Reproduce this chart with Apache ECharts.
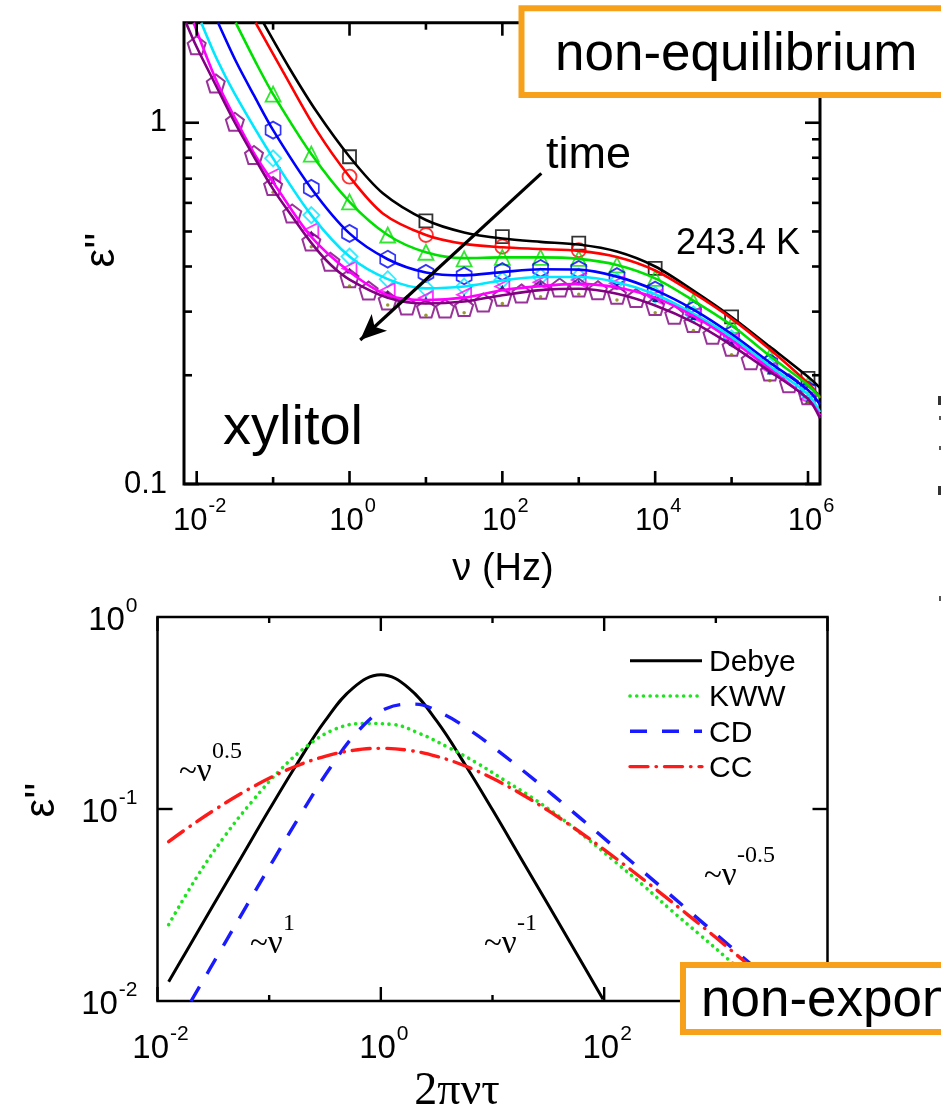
<!DOCTYPE html>
<html>
<head>
<meta charset="utf-8">
<title>Dielectric loss of xylitol</title>
<script src="https://cdn.jsdelivr.net/npm/echarts@6.0.0/dist/echarts.min.js"></script>
<style>
html, body { margin: 0; padding: 0; background: #ffffff; }
#chart { width: 941px; height: 1118px; }
</style>
</head>
<body>
<div id="chart"></div>
<script>
// ---------- upper panel: xylitol at 243.4 K, eps'' vs frequency ----------
// frequencies are stored as log10(nu / Hz)
const nuDecades = [0, 1, 2, 3, 4, 5, 6];
const nuHalfDecades = [-1, -0.5, 0, 0.5, 1, 1.5, 2, 2.5, 3, 3.5, 4, 4.5, 5, 5.5, 6];
const nuQuarterDecades = [-2, -1.75, -1.5, -1.25, -1, -0.75, -0.5, -0.25, 0, 0.25, 0.5, 0.75,
  1, 1.25, 1.5, 1.75, 2, 2.25, 2.5, 2.75, 3, 3.25, 3.5, 3.75, 4, 4.25, 4.5, 4.75, 5, 5.25, 5.5, 5.75, 6];

// measured points
const epsSquares  = [0.805, 0.535, 0.484, 0.464, 0.395, 0.290, 0.196];
const epsCircles  = [0.709, 0.489, 0.454, 0.444];
const epsTriUp    = [1.20, 0.819, 0.604, 0.489, 0.438, 0.420, 0.424, 0.424, 0.421, 0.404, 0.371, 0.320, 0.275, 0.225, 0.188];
const epsHexagons = [0.954, 0.658, 0.494, 0.419, 0.383, 0.377, 0.387, 0.395, 0.393, 0.375, 0.344, 0.303, 0.259, 0.216, 0.182];
const epsDiamonds = [0.797, 0.555, 0.426, 0.369, 0.348, 0.352, 0.367, 0.375, 0.375, 0.364, 0.334, 0.295, 0.253, 0.212, 0.178];
const epsTriLeft  = [0.716, 0.505, 0.395, 0.344, 0.327, 0.334, 0.352, 0.362, 0.367, 0.359, 0.330, 0.294, 0.250, 0.208, 0.172];
const epsStars    = [0.690, 0.494, 0.390, 0.338, 0.325, 0.330, 0.350, 0.358, 0.362, 0.352, 0.325, 0.290, 0.246, 0.205, 0.170];
const epsDots     = [0.642, 0.454, 0.353, 0.313, 0.293, 0.298, 0.316, 0.330, 0.335, 0.323, 0.298, 0.266, 0.228, 0.193, 0.168];
const epsPentagons = [1.64, 1.285, 1.006, 0.814, 0.668, 0.561, 0.469, 0.412, 0.371, 0.343, 0.322, 0.312,
  0.306, 0.306, 0.309, 0.318, 0.330, 0.337, 0.345, 0.350, 0.350, 0.344, 0.334, 0.327, 0.311, 0.294,
  0.279, 0.259, 0.240, 0.220, 0.205, 0.190, 0.176];

// fit curves
const fitBlackNu = [-1.128, -0.786, -0.436, 0, 0.436, 1, 1.5, 2, 2.5, 3, 3.5, 4, 4.5, 5, 5.5, 6, 6.157];
const fitBlackEps = [1.892, 1.415, 1.077, 0.805, 0.638, 0.538, 0.497, 0.478, 0.468, 0.460, 0.440, 0.400, 0.343, 0.290, 0.240, 0.198, 0.1845];
const fitRedNu = [-1.23, -0.874, -0.436, 0, 0.436, 1, 1.5, 2, 2.5, 3, 3.5, 4, 4.5, 5, 5.5, 6, 6.157];
const fitRedEps = [1.892, 1.39, 0.957, 0.709, 0.561, 0.489, 0.462, 0.452, 0.447, 0.442, 0.425, 0.390, 0.338, 0.287, 0.236, 0.190, 0.174];
const fitGreenNu = [-1.49, -1.22, -1, -0.5, 0, 0.5, 1, 1.5, 2, 2.5, 3, 3.5, 4, 4.5, 5, 5.5, 6, 6.157];
const fitGreenEps = [1.892, 1.46, 1.20, 0.819, 0.604, 0.489, 0.438, 0.422, 0.424, 0.424, 0.420, 0.404, 0.371, 0.322, 0.275, 0.226, 0.188, 0.173];
const fitBlueNu = [-1.72, -1.48, -1.25, -1, -0.5, 0, 0.5, 1, 1.5, 2, 2.5, 3, 3.5, 4, 4.5, 5, 5.5, 6, 6.157];
const fitBlueEps = [1.892, 1.47, 1.19, 0.954, 0.658, 0.494, 0.419, 0.385, 0.378, 0.386, 0.393, 0.392, 0.375, 0.344, 0.304, 0.260, 0.217, 0.182, 0.166];
const fitCyanNu = [-1.94, -1.73, -1.5, -1, -0.5, 0, 0.5, 1, 1.5, 2, 2.5, 3, 3.5, 4, 4.5, 5, 5.5, 6, 6.157];
const fitCyanEps = [1.892, 1.491, 1.20, 0.797, 0.555, 0.426, 0.369, 0.348, 0.352, 0.366, 0.374, 0.374, 0.362, 0.335, 0.296, 0.255, 0.212, 0.177, 0.158];
const fitMagentaNu = [-2.04, -1.746, -1.484, -1.222, -0.96, -0.5, 0, 0.5, 1, 1.5, 2, 2.5, 3, 3.5, 4, 4.5, 5, 5.5, 6, 6.157];
const fitMagentaEps = [1.892, 1.313, 1.017, 0.805, 0.665, 0.483, 0.387, 0.333, 0.323, 0.328, 0.344, 0.353, 0.358, 0.350, 0.328, 0.292, 0.250, 0.208, 0.172, 0.155];
const fitPurpleNu = [-2.14, -2, -1.75, -1.5, -1.25, -1, -0.75, -0.5, -0.25, 0, 0.5, 1, 1.5, 2, 2.5, 3, 3.5, 4, 4.5, 5, 5.5, 6, 6.157];
const fitPurpleEps = [1.892, 1.62, 1.27, 1.0, 0.805, 0.655, 0.55, 0.465, 0.405, 0.368, 0.328, 0.316, 0.320, 0.333, 0.344, 0.347, 0.336, 0.312, 0.280, 0.242, 0.205, 0.172, 0.152];

// ---------- lower panel: model loss peaks vs 2*pi*nu*tau (x stored as log10) ----------
const debyeX = [-1.9, -1.75, -1.5, -1.25, -1, -0.75, -0.5, -0.25, 0, 0.25, 0.5, 0.75, 1, 1.25, 1.5, 1.75, 1.99];
const debyeY = [0.0126, 0.0178, 0.0316, 0.0559, 0.099, 0.172, 0.2875, 0.4266, 0.500, 0.4266, 0.2875, 0.172, 0.099, 0.0559, 0.0316, 0.0178, 0.0102];
const kwwX = [-1.9, -1.65, -1.4, -1.15, -0.9, -0.65, -0.4, -0.15, 0.1, 0.35, 0.6, 0.85, 1.1, 1.35, 1.6, 1.85, 2.1, 2.35, 2.6, 2.85, 3.1, 3.4];
const kwwY = [0.025, 0.044, 0.072, 0.110, 0.160, 0.215, 0.262, 0.279, 0.276, 0.247, 0.210, 0.175, 0.142, 0.115, 0.091, 0.070, 0.053, 0.040, 0.0297, 0.0223, 0.0167, 0.0118];
const cdX = [-1.7, -1.45, -1.2, -0.95, -0.7, -0.45, -0.2, 0.05, 0.3, 0.55, 0.8, 1.05, 1.3, 1.55, 1.8, 2.05, 2.3, 2.55, 2.8, 3.05, 3.3, 3.45];
const cdY = [0.00997, 0.0177, 0.0315, 0.0557, 0.0973, 0.165, 0.256, 0.334, 0.352, 0.314, 0.257, 0.201, 0.154, 0.117, 0.0883, 0.0664, 0.0499, 0.0375, 0.0281, 0.0211, 0.0158, 0.0133];
const ccX = [-1.9, -1.75, -1.5, -1.25, -1, -0.75, -0.5, -0.25, 0, 0.25, 0.5, 0.75, 1, 1.25, 1.5, 1.75, 2, 2.25, 2.5, 2.75, 3, 3.25, 3.45];
const ccY = [0.0676, 0.0782, 0.098, 0.1205, 0.1445, 0.168, 0.188, 0.202, 0.207, 0.202, 0.188, 0.168, 0.1445, 0.1205, 0.098, 0.0782, 0.0614, 0.0477, 0.0367, 0.0281, 0.0214, 0.0162, 0.013];

// axis ranges and ticks
const topNuRange = [-2.166, 6.157];
const topEpsRange = [0.1, 1.892];
const topNuTicks = [-2, -1, 0, 1, 2, 3, 4, 5, 6];
const topNuLabels = [-2, 0, 2, 4, 6];
const topEpsMajor = [0.1, 1];
const topEpsMinor = [0.2, 0.3, 0.4, 0.5, 0.6, 0.7, 0.8, 0.9];
const botXRange = [-2, 4];
const botYRange = [-2, 0];
const botXTicks = [-2, -1, 0, 1, 2, 3, 4];
const botXLabels = [-2, 0, 2];
const botYTicks = [-1];
const botYLabels = [-2, -1, 0];

// legend of the lower panel
const modelNames = ['Debye', 'KWW', 'CD', 'CC'];

const SANS = '"Liberation Sans", Arial, Helvetica, sans-serif';
const SERIF = '"Liberation Serif", "Times New Roman", serif';
const ORANGE = '#f7a11a';

const p10 = e => Math.pow(10, e);
const logPairs = (xs, ys) => xs.map((x, i) => [p10(x), ys[i]]);

// approximate advance widths (em) of the sans face, used to centre "10^n" labels
const ADV = { '0': 0.556, '1': 0.556, '2': 0.556, '3': 0.556, '4': 0.556, '5': 0.556, '6': 0.556,
  '7': 0.556, '8': 0.556, '9': 0.556, '-': 0.333, '.': 0.278 };
const textW = (s, fs) => s.split('').reduce((a, c) => a + (ADV[c] || 0.55), 0) * fs;

function txt(x, y, text, fs, align, vAlign, family) {
  return {
    type: 'text', x: x, y: y, silent: true,
    style: { text: text, fill: '#000', fontSize: fs, fontFamily: family || SANS,
      textAlign: align || 'left', align: align || 'left',
      textVerticalAlign: vAlign || 'middle', verticalAlign: vAlign || 'middle' }
  };
}

function powerLabel(cx, cy, exp, fs, sfs, supDy, align) {
  const base = '10', sup = String(exp);
  const wb = textW(base, fs), ws = textW(sup, sfs);
  const left = align === 'right' ? cx - wb - ws - 1 : cx - (wb + ws + 1) / 2;
  return [txt(left, cy, base, fs, 'left'), txt(left + wb + 1, cy - supDy, sup, sfs, 'left')];
}

// tick marks drawn inward on both opposite sides of a frame
function tickSeries(grid, items, orient, xr, yr, lw) {
  return {
    type: 'custom', xAxisIndex: grid, yAxisIndex: grid, silent: true, z: 6, clip: false,
    encode: { x: 0, y: 1 },
    data: items,
    renderItem: function (params, api) {
      const len = api.value(2);
      const st = { stroke: '#000', lineWidth: lw };
      if (orient === 'x') {
        const v = api.value(0);
        const a = api.coord([v, yr[0]]), b = api.coord([v, yr[1]]);
        return { type: 'group', children: [
          { type: 'line', shape: { x1: a[0], y1: a[1], x2: a[0], y2: a[1] - len }, style: st },
          { type: 'line', shape: { x1: b[0], y1: b[1], x2: b[0], y2: b[1] + len }, style: st }
        ] };
      }
      const v = api.value(1);
      const a = api.coord([xr[0], v]), b = api.coord([xr[1], v]);
      return { type: 'group', children: [
        { type: 'line', shape: { x1: a[0], y1: a[1], x2: a[0] + len, y2: a[1] }, style: st },
        { type: 'line', shape: { x1: b[0], y1: b[1], x2: b[0] - len, y2: b[1] }, style: st }
      ] };
    }
  };
}

// tick labels positioned from the axis scale
function labelSeries(grid, items, build) {
  return {
    type: 'custom', xAxisIndex: grid, yAxisIndex: grid, silent: true, z: 6, clip: false,
    encode: { x: 0, y: 1 },
    data: items,
    renderItem: function (params, api) {
      const pt = api.coord([api.value(0), api.value(1)]);
      return { type: 'group', children: build(pt, api.value(2)) };
    }
  };
}

const topXmin = p10(topNuRange[0]), topXmax = p10(topNuRange[1]);
const botXmin = p10(botXRange[0]), botXmax = p10(botXRange[1]);
const botYmin = p10(botYRange[0]), botYmax = p10(botYRange[1]);

const hexagon = 'path://M8.66,0 L17.32,5 L17.32,15 L8.66,20 L0,15 L0,5 Z';
const pentagon = 'path://M10,0 L19.51,6.91 L15.88,18.09 L4.12,18.09 L0.49,6.91 Z';
const triLeft = 'path://M20,0 L20,20 L0,10 Z';

function markers(name, xs, ys, symbol, size, color, bw) {
  return {
    name: name, type: 'scatter', xAxisIndex: 0, yAxisIndex: 0, z: 3,
    symbol: symbol, symbolSize: size, silent: true,
    itemStyle: { color: 'rgba(255,255,255,0)', borderColor: color, borderWidth: bw || 1.8 },
    data: logPairs(xs, ys)
  };
}
function solidMarkers(name, xs, ys, symbol, size, color) {
  return {
    name: name, type: 'scatter', xAxisIndex: 0, yAxisIndex: 0, z: 3,
    symbol: symbol, symbolSize: size, silent: true,
    itemStyle: { color: color },
    data: logPairs(xs, ys)
  };
}
function fit(name, xs, ys, color) {
  return {
    name: name, type: 'line', xAxisIndex: 0, yAxisIndex: 0, z: 4,
    symbol: 'none', smooth: 0.3, silent: true,
    lineStyle: { color: color, width: 2.6 },
    data: logPairs(xs, ys)
  };
}

const modelStyle = [
  { color: '#000000', width: 3, type: 'solid', cap: 'butt' },
  { color: '#1ee41e', width: 3.6, type: [0.1, 6.6], cap: 'round' },
  { color: '#1a1aff', width: 3.4, type: [17, 15], cap: 'butt' },
  { color: '#ff1a1a', width: 3.4, type: [18, 8, 0.5, 8], cap: 'round' }
];
function model(i, xs, ys) {
  return {
    name: modelNames[i], type: 'line', xAxisIndex: 1, yAxisIndex: 1, z: 4,
    symbol: 'none', smooth: 0.4, silent: true,
    lineStyle: modelStyle[i],
    data: logPairs(xs, ys)
  };
}

const C = { black: '#000000', red: '#ff0000', green: '#00e000', blue: '#0000ff',
  cyan: '#00e8ff', magenta: '#ff00ff', purple: '#800080', navy: '#000080', olive: '#808000' };

const series = [
  fit('fit t1', fitBlackNu, fitBlackEps, C.black),
  fit('fit t2', fitRedNu, fitRedEps, C.red),
  fit('fit t3', fitGreenNu, fitGreenEps, C.green),
  fit('fit t4', fitBlueNu, fitBlueEps, C.blue),
  fit('fit t5', fitCyanNu, fitCyanEps, C.cyan),
  fit('fit t6', fitMagentaNu, fitMagentaEps, C.magenta),
  fit('fit t7', fitPurpleNu, fitPurpleEps, C.purple),
  markers('t1', nuDecades, epsSquares, 'rect', 13, C.black),
  markers('t2', nuDecades.slice(0, 4), epsCircles, 'circle', 14, C.red),
  markers('t3', nuHalfDecades, epsTriUp, 'triangle', 15, C.green),
  markers('t4', nuHalfDecades, epsHexagons, hexagon, [15, 17], C.blue),
  markers('t5', nuHalfDecades, epsDiamonds, 'diamond', 16, C.cyan),
  markers('t6', nuHalfDecades, epsTriLeft, triLeft, 14, C.magenta),
  solidMarkers('t6b', nuHalfDecades, epsStars, 'triangle', 6, C.navy),
  markers('t7', nuQuarterDecades, epsPentagons, pentagon, 18, C.purple, 2),
  solidMarkers('t8', nuHalfDecades, epsDots, 'circle', 3.5, C.olive),
  model(0, debyeX, debyeY),
  model(1, kwwX, kwwY),
  model(2, cdX, cdY),
  model(3, ccX, ccY)
];

// "time" arrow across the upper panel
series[0].markLine = {
  silent: true, symbol: ['none', 'arrow'], symbolSize: [17, 26],
  lineStyle: { color: '#000', width: 3.2, type: 'solid' },
  label: { show: false },
  data: [[{ coord: [p10(2.51), 0.724] }, { coord: [p10(0.14), 0.2504] }]]
};

// upper panel ticks and labels
series.push(tickSeries(0, topNuTicks.map(e => [p10(e), topEpsRange[0], e % 2 === 0 ? 13 : 7]), 'x', [topXmin, topXmax], topEpsRange, 2.6));
series.push(tickSeries(0, topEpsMajor.map(v => [topXmin, v, 15]).concat(topEpsMinor.map(v => [topXmin, v, 8])), 'y', [topXmin, topXmax], topEpsRange, 2.6));
series.push(labelSeries(0, topNuLabels.map(e => [p10(e), topEpsRange[0], e]), (pt, e) => powerLabel(pt[0] + 3, pt[1] + 37, e, 31, 20, 15, 'center')));
series.push(labelSeries(0, topEpsMajor.map(v => [topXmin, v, v]), (pt, v) => [txt(pt[0] - 17, pt[1], String(v), 31, 'right')]));

// lower panel ticks and labels
series.push(tickSeries(1, botXTicks.map(e => [p10(e), botYmin, e % 2 === 0 ? 14 : 6]), 'x', [botXmin, botXmax], [botYmin, botYmax], 2.4));
series.push(tickSeries(1, botYTicks.map(e => [botXmin, p10(e), 15]), 'y', [botXmin, botXmax], [botYmin, botYmax], 2.4));
series.push(labelSeries(1, botXLabels.map(e => [p10(e), botYmin, e]), (pt, e) => powerLabel(pt[0] + 3, pt[1] + 48, e, 33, 21, 15, 'center')));
series.push(labelSeries(1, botYLabels.map(e => [botXmin, p10(e), e]), (pt, e) => powerLabel(pt[0] - 20, pt[1] + 4, e, 33, 21, 15, 'right')));

// "~nu^exp" power-law notes
function powerNote(x, y, exp) {
  const fs = 33;
  return [txt(x, y, '~\u03bd', fs, 'left', 'middle', SERIF),
          txt(x + fs * 1.0, y - fs * 0.6, exp, 24, 'left', 'middle', SERIF)];
}

// legend of the lower panel, one row per model curve
function legendRows() {
  const out = [];
  modelNames.forEach((name, i) => {
    const y = 660.7 + i * 35.3;
    const s = modelStyle[i];
    out.push({ type: 'line', silent: true, z: 20,
      shape: { x1: 630, y1: y, x2: 702, y2: y },
      style: { stroke: s.color, lineWidth: s.width, lineDash: s.type === 'solid' ? null : s.type, lineCap: s.cap } });
    out.push(Object.assign(txt(709, y + 2, name, 30, 'left'), { z: 20 }));
  });
  return out;
}

const graphic = [].concat(
  [
    // axis titles
    Object.assign(txt(102, 250, "\u03b5''", 42, 'center'), { rotation: Math.PI / 2 }),
    txt(503, 570, '\u03bd (Hz)', 38, 'center'),
    Object.assign(txt(42, 800, "\u03b5''", 42, 'center'), { rotation: Math.PI / 2 }),
    txt(457, 1092, '2\u03c0\u03bd\u03c4', 46, 'center', 'middle', SERIF),
    // upper panel notes
    txt(223, 429, 'xylitol', 56, 'left'),
    txt(546, 156, 'time', 45, 'left'),
    txt(676, 244, '243.4 K', 36, 'left'),
    // boxed captions
    { type: 'rect', z: 100, silent: true, shape: { x: 521.5, y: 8.3, width: 440, height: 86.7 },
      style: { fill: '#fff', stroke: ORANGE, lineWidth: 6 } },
    Object.assign(txt(555, 55, 'non-equilibrium', 53, 'left'), { z: 101 }),
    { type: 'rect', z: 100, silent: true, shape: { x: 683, y: 965, width: 300, height: 67 },
      style: { fill: '#fff', stroke: ORANGE, lineWidth: 6 } },
    Object.assign(txt(701, 1001, 'non-exponential', 53, 'left'), { z: 101 }),
    // neighbouring frame edge
    { type: 'rect', silent: true, shape: { x: 938, y: 396, width: 3, height: 9 }, style: { fill: '#333' } },
    { type: 'rect', silent: true, shape: { x: 939, y: 416, width: 2, height: 4 }, style: { fill: '#555' } },
    { type: 'rect', silent: true, shape: { x: 939, y: 446, width: 2, height: 4 }, style: { fill: '#555' } },
    { type: 'rect', silent: true, shape: { x: 938, y: 486, width: 3, height: 9 }, style: { fill: '#333' } },
    { type: 'rect', silent: true, shape: { x: 939, y: 596, width: 2, height: 5 }, style: { fill: '#555' } }
  ],
  powerNote(179, 772, '0.5'),
  powerNote(250, 944, '1'),
  powerNote(484, 944, '-1'),
  powerNote(704, 876, '-0.5'),
  legendRows()
);

const axisOff = { axisLine: { show: false }, axisTick: { show: false }, axisLabel: { show: false }, splitLine: { show: false } };

const option = {
  animation: false,
  backgroundColor: '#ffffff',
  grid: [
    { left: 184, top: 22.7, width: 636, height: 461.3, show: true, borderColor: '#000', borderWidth: 3, backgroundColor: 'transparent' },
    { left: 157.5, top: 617, width: 670, height: 384, show: true, borderColor: '#000', borderWidth: 2.5, backgroundColor: 'transparent' }
  ],
  xAxis: [
    Object.assign({ gridIndex: 0, type: 'log', logBase: 10, min: topXmin, max: topXmax }, axisOff),
    Object.assign({ gridIndex: 1, type: 'log', logBase: 10, min: botXmin, max: botXmax }, axisOff)
  ],
  yAxis: [
    Object.assign({ gridIndex: 0, type: 'log', logBase: 10, min: topEpsRange[0], max: topEpsRange[1] }, axisOff),
    Object.assign({ gridIndex: 1, type: 'log', logBase: 10, min: botYmin, max: botYmax }, axisOff)
  ],
  graphic: graphic,
  series: series
};

const chart = echarts.init(document.getElementById('chart'), null, { renderer: 'canvas' });
chart.setOption(option);
</script>
</body>
</html>
